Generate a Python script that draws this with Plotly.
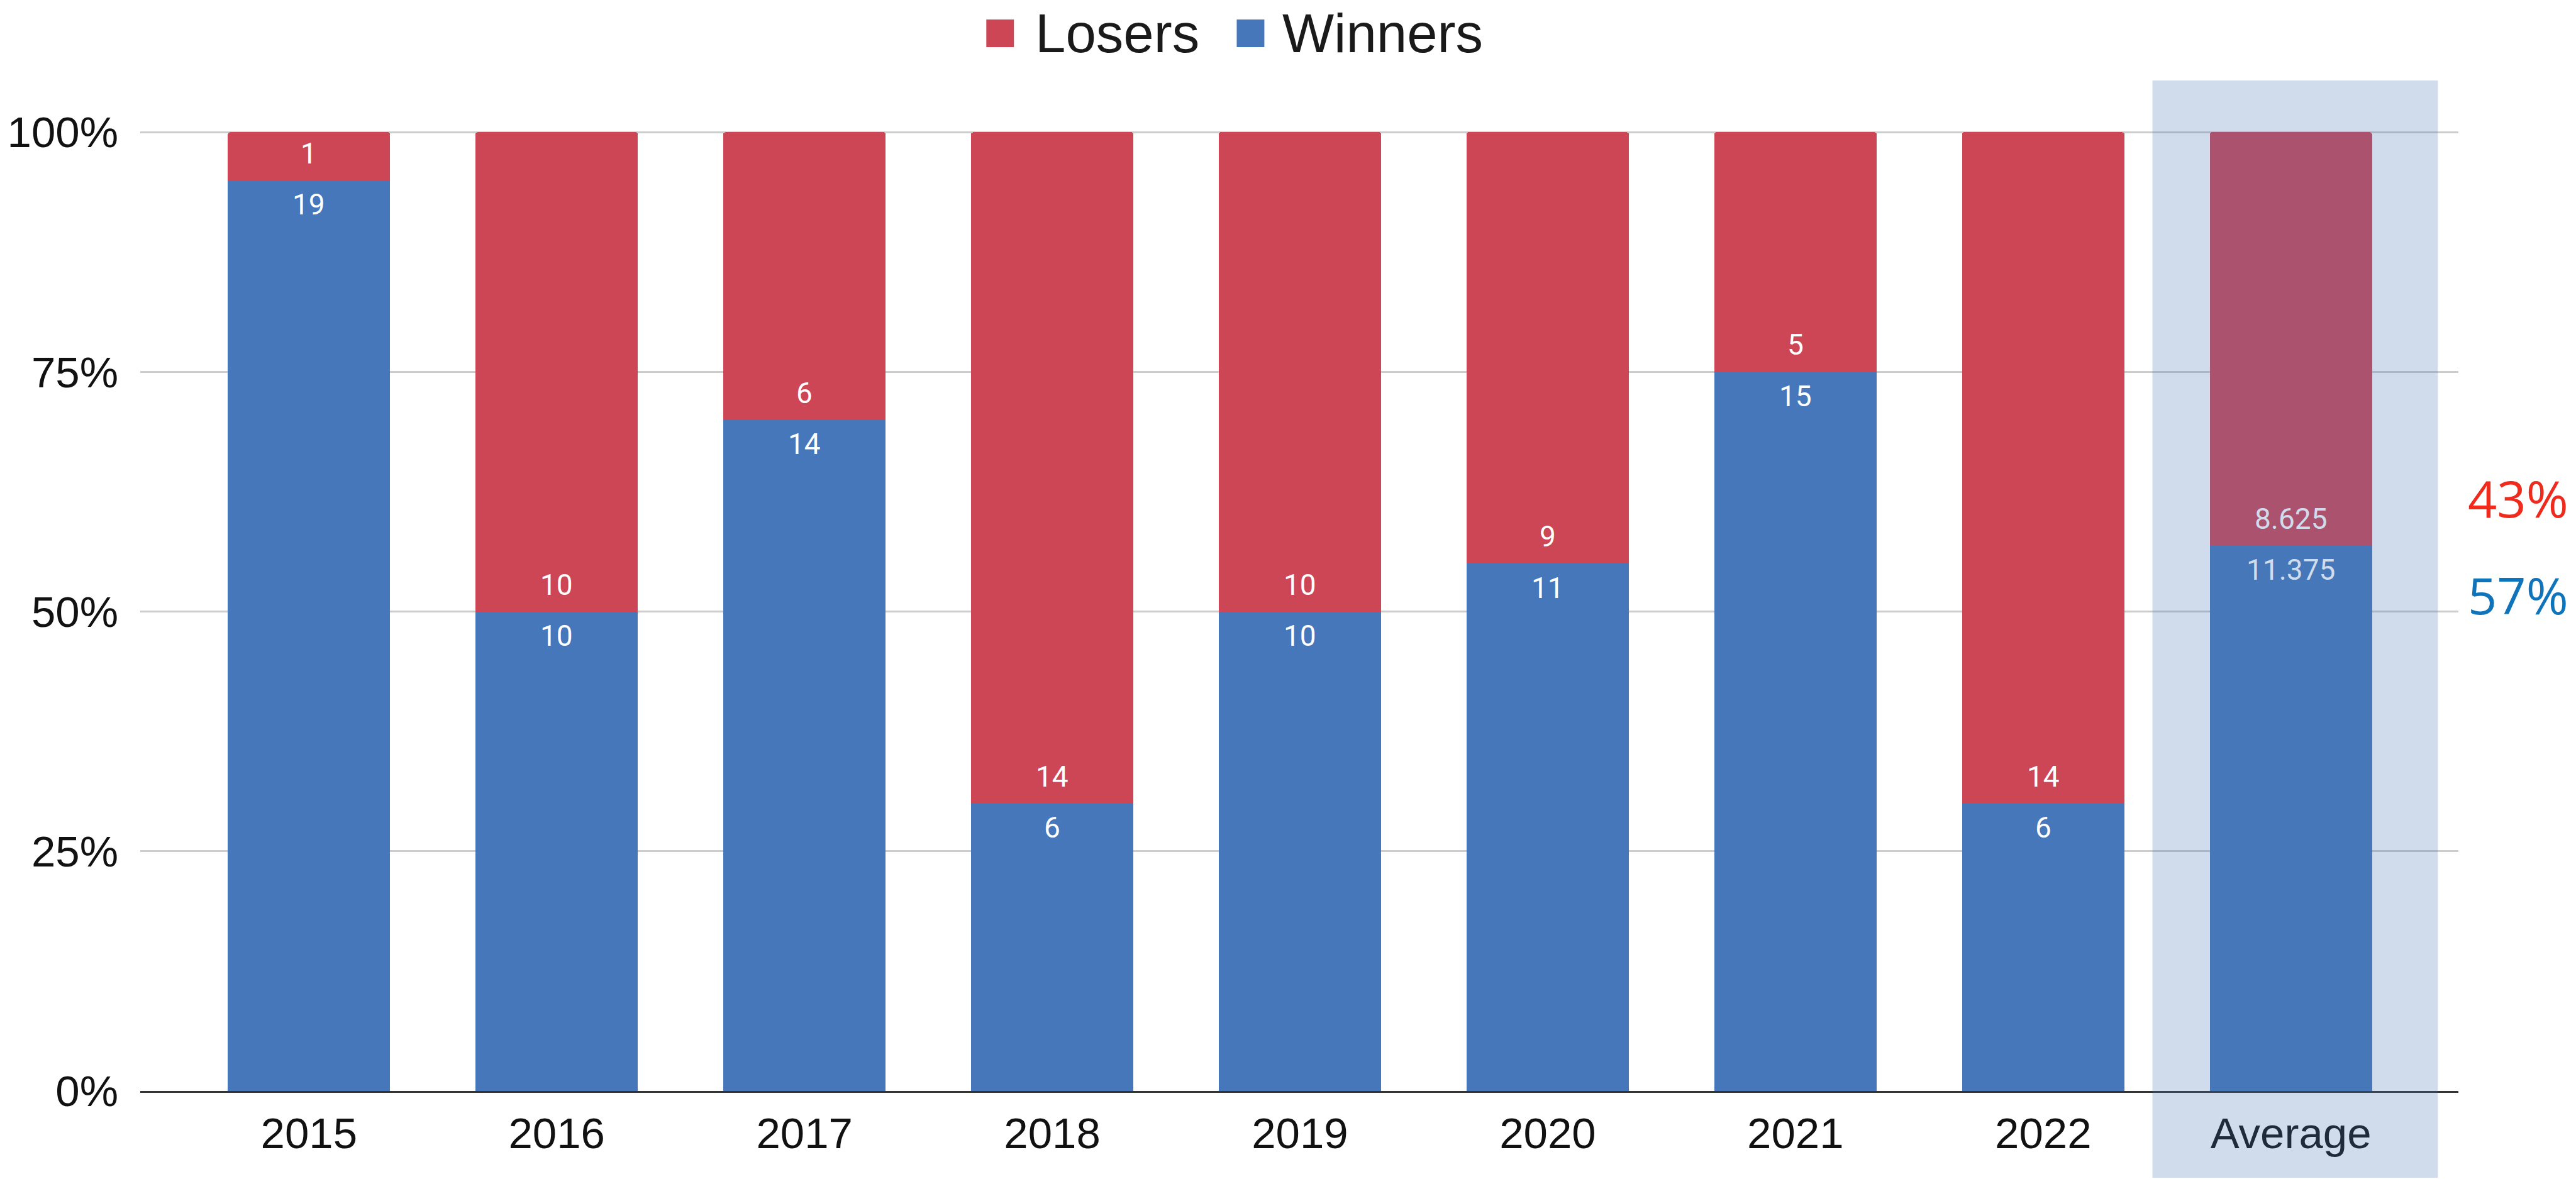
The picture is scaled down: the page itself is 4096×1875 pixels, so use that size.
import plotly.graph_objects as go

# ---- data -------------------------------------------------------------
categories = ["2015", "2016", "2017", "2018", "2019", "2020", "2021", "2022", "Average"]
winners = [19, 10, 14, 6, 10, 11, 15, 6, 11.375]
losers = [1, 10, 6, 14, 10, 9, 5, 14, 8.625]
y_tick_values = [0, 25, 50, 75, 100]
y_tick_labels = ["0%", "25%", "50%", "75%", "100%"]

# ---- styling ----------------------------------------------------------
W, H = 4096, 1875
ML, MR, MT, MB = 217, 187, 208, 140
PLOT_W = W - ML - MR
PLOT_H = H - MT - MB
Y_TOP = 100.15  # a hair above 100 so the top gridline is kept

RED = "#CC4655"
BLUE = "#4677BA"
BAND = "rgba(74,120,182,0.26)"
BAND_ON_WHITE = "#D0DCEC"
SANS = "Liberation Sans, Arial, sans-serif"
LABEL_FONT = "Roboto, sans-serif"
BAR_WIDTH = 0.655


def px_x(px):
    """Window pixel column -> paper x."""
    return (px - ML) / PLOT_W


def px_y(py):
    """Window pixel row -> paper y."""
    return (H - MB - py) / PLOT_H


fig = go.Figure()
fig.add_bar(x=categories, y=winners, name="Winners", marker_color=BLUE,
            width=BAR_WIDTH, marker_line_width=0, showlegend=False)
fig.add_bar(x=categories, y=losers, name="Losers", marker_color=RED,
            width=BAR_WIDTH, marker_line_width=0, showlegend=False)

annotations = []
# value labels either side of the winner/loser boundary
for i, (cat, w, l) in enumerate(zip(categories, winners, losers)):
    pct = w / (w + l) * 100
    col = BAND_ON_WHITE if cat == "Average" else "white"
    annotations.append(dict(x=i, y=pct, xref="x", yref="y", text=f"{l:g}",
                            showarrow=False, yshift=43, yanchor="middle",
                            font=dict(family=LABEL_FONT, size=46, color=col)))
    annotations.append(dict(x=i, y=pct, xref="x", yref="y", text=f"{w:g}",
                            showarrow=False, yshift=-38.5, yanchor="middle",
                            font=dict(family=LABEL_FONT, size=46, color=col)))

# share of losers / winners on average, written beside the chart
avg_w, avg_l = winners[-1], losers[-1]
loser_share = round(avg_l / (avg_w + avg_l) * 100)
winner_share = round(avg_w / (avg_w + avg_l) * 100)
annotations.append(dict(x=px_x(4086), y=px_y(791), xref="paper", yref="paper",
                        text=f"{loser_share}%", showarrow=False,
                        xanchor="right", yanchor="middle",
                        font=dict(family="Open Sans, sans-serif", size=81, color="#EE2B1C")))
annotations.append(dict(x=px_x(4086), y=px_y(945), xref="paper", yref="paper",
                        text=f"{winner_share}%", showarrow=False,
                        xanchor="right", yanchor="middle",
                        font=dict(family="Open Sans, sans-serif", size=81, color="#0F74BA")))

# legend drawn by hand so the swatches can be large
legend_items = [("Losers", RED, 1564.5, 1640), ("Winners", BLUE, 1963.3, 2034)]
shapes = []
for name, col, sx, tx in legend_items:
    shapes.append(dict(type="rect", xref="paper", yref="paper",
                       x0=px_x(sx), x1=px_x(sx + 44), y0=px_y(75), y1=px_y(31),
                       fillcolor=col, line_width=0, layer="above"))
    annotations.append(dict(x=px_x(tx), y=px_y(2), xref="paper", yref="paper",
                            text=name, showarrow=False, xanchor="left", yanchor="top",
                            font=dict(family=SANS, size=87, color="#1A1A1A")))

# translucent highlight over the Average column
shapes.append(dict(type="rect", xref="x", yref="paper",
                   x0=7.441, x1=8.593, y0=px_y(1873), y1=px_y(128),
                   fillcolor=BAND, line_width=0, layer="above"))

fig.update_layout(
    width=W, height=H,
    margin=dict(l=ML, r=MR, t=MT, b=MB, pad=0),
    paper_bgcolor="white", plot_bgcolor="white",
    barmode="stack", barnorm="percent", barcornerradius=4,
    showlegend=False,
    annotations=annotations, shapes=shapes,
    font=dict(family=SANS, color="#111111"),
    xaxis=dict(type="category", range=[-0.681, 8.676], showgrid=False,
               showline=True, linecolor="#333333", linewidth=3,
               ticks="", ticklabelstandoff=5,
               tickfont=dict(family=SANS, size=69, color="#111111")),
    yaxis=dict(range=[0, Y_TOP], tickvals=y_tick_values, ticktext=y_tick_labels,
               showgrid=True, gridcolor="#CCCCCC", gridwidth=2.5,
               zeroline=False, showline=False, ticks="", ticklabelstandoff=34,
               tickfont=dict(family=SANS, size=69, color="#111111")),
)

fig.write_html("out.html")
